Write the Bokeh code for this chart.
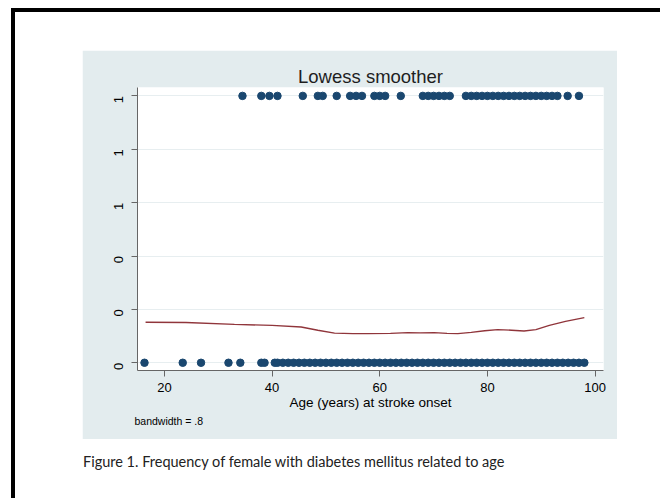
import math
from bokeh.plotting import figure
from bokeh.layouts import column, row
from bokeh.models import (Div, Title, FixedTicker, CustomJSTickFormatter,
                          Range1d, ColumnDataSource)
from bokeh.embed import file_html
from bokeh.resources import INLINE

# ---------------- data ----------------
# ages of patients WITH diabetes (outcome = 1)
ages_dm = [34.5, 38.0, 39.5, 41.0, 45.7, 48.5, 49.4, 52.0, 54.5, 55.6, 56.7,
           59.0, 60.0, 61.0, 63.9,
           68, 69, 70, 71, 72, 73,
           76, 77, 78, 79, 80, 81, 82, 83, 84, 85, 86, 87, 88, 89, 90, 91, 92, 93,
           94.9, 97.0]
# ages of patients WITHOUT diabetes (outcome = 0)
ages_no = [16.3, 23.4, 26.8, 31.9, 34.1, 38.0, 38.6, 40.5,
           41, 42, 43, 44, 45, 46, 47, 48, 49, 50, 51, 52, 53, 54, 55, 56, 57, 58,
           59, 60, 61, 62, 63, 64, 65, 66, 67, 68, 69, 70, 71, 72, 73, 74, 75, 76,
           77, 78, 79, 80, 81, 82, 83, 84, 85, 86, 87, 88, 89, 90, 91, 92, 93, 94,
           95, 96, 97, 98]
# lowess smoothed curve
lowess_age = [16.5, 24.0, 33.0, 40.0, 45.4, 48.5, 51.6, 55.0, 57.8, 62.0, 65.2,
              67.5, 70.1, 72.5, 74.5, 77.0, 79.5, 81.9, 84.5, 86.8, 89.0, 91.5,
              94.5, 98.0]
lowess_val = [0.152, 0.151, 0.144, 0.140, 0.134, 0.122, 0.111, 0.109, 0.109, 0.110,
              0.113, 0.112, 0.113, 0.110, 0.109, 0.114, 0.120, 0.124, 0.122, 0.119,
              0.124, 0.140, 0.155, 0.169]

x_ticks = [20, 40, 60, 80, 100]
y_ticks = [0, 0.2, 0.4, 0.6, 0.8, 1.0]
y_tick_labels = ["0", "0", "0", "1", "1", "1"]

title_text = "Lowess smoother"
x_label = "Age (years) at stroke onset"
note_text = "bandwidth = .8"
caption_text = "Figure 1. Frequency of female with diabetes mellitus related to age"

# ---------------- styles ----------------
PANEL = "#e3ecee"
NAVY = "#1a476f"
MAROON = "#90353b"
AXIS = "#666666"
GRID = "#e7eef0"
FONT = "Liberation Sans"

p = figure(width=535, height=389, margin=(38, 0, 0, 67),
           output_backend="svg", toolbar_location=None,
           x_range=Range1d(15.0, 101.56), y_range=Range1d(-0.029, 1.0315),
           min_border_left=55, min_border_right=14,
           min_border_top=37, min_border_bottom=69)
p.border_fill_color = PANEL
p.background_fill_color = "white"
p.outline_line_color = None

# title and note
p.title.text = title_text
p.title.align = "center"
p.title.text_font = FONT
p.title.text_font_size = "18.5px"
p.title.text_font_style = "normal"
p.title.text_color = "#1e1e1e"
p.title.standoff = 2
p.add_layout(Title(text=note_text, align="left", offset=-3, text_font=FONT,
                   text_font_size="10.5px", text_font_style="normal",
                   text_color="black", standoff=1), "below")

# data
src_dm = ColumnDataSource(dict(x=ages_dm, y=[1] * len(ages_dm)))
src_no = ColumnDataSource(dict(x=ages_no, y=[0] * len(ages_no)))
p.scatter("x", "y", source=src_dm, size=7.5, fill_color=NAVY, line_color=NAVY)
p.scatter("x", "y", source=src_no, size=7.5, fill_color=NAVY, line_color=NAVY)
p.line(lowess_age, lowess_val, line_color=MAROON, line_width=1.4)

# axes
p.xaxis.ticker = FixedTicker(ticks=x_ticks)
p.yaxis.ticker = FixedTicker(ticks=y_ticks)
p.yaxis.formatter = CustomJSTickFormatter(
    args=dict(tvals=y_ticks, tlabels=y_tick_labels),
    code="""
    let best = 0;
    for (let i = 0; i < tvals.length; i++) {
        if (Math.abs(tvals[i] - tick) < Math.abs(tvals[best] - tick)) best = i;
    }
    return tlabels[best];
    """)
for ax in (p.xaxis, p.yaxis):
    ax.axis_line_color = AXIS
    ax.axis_line_width = 1
    ax.major_tick_line_color = AXIS
    ax.major_tick_out = 6
    ax.major_tick_in = 0
    ax.minor_tick_line_color = None
    ax.major_label_text_font = FONT
    ax.major_label_text_font_size = "13px"
    ax.major_label_text_color = "black"
p.yaxis.major_label_orientation = math.pi / 2
p.yaxis.major_label_standoff = 13
p.xaxis.major_label_standoff = 6
p.xaxis.axis_label = x_label
p.xaxis.axis_label_text_font = FONT
p.xaxis.axis_label_text_font_style = "normal"
p.xaxis.axis_label_text_font_size = "13.5px"
p.xaxis.axis_label_text_color = "black"
p.xaxis.axis_label_standoff = 0

p.xgrid.visible = False
p.ygrid.ticker = FixedTicker(ticks=y_ticks)
p.ygrid.grid_line_color = GRID
p.ygrid.grid_line_width = 1

# page furniture: black frame bars and the caption below the graph
top_bar = Div(text="", width=649, height=4, margin=(8, 0, 0, 11),
              styles={"background-color": "black"})
left_bar = Div(text="", width=4, height=486, margin=(0, 0, 0, 11),
               styles={"background-color": "black"})
caption = Div(text=caption_text, width=530, height=20, margin=(13, 0, 0, 68),
              styles={"font-family": "Lato", "font-size": "14.5px",
                      "color": "#222222", "white-space": "nowrap"})

inner = column(p, caption, spacing=0, margin=0)
mid = row(left_bar, inner, spacing=0, margin=0)
root = column(top_bar, mid, spacing=0, margin=0)

open("out.html", "w").write(file_html(root, INLINE))
